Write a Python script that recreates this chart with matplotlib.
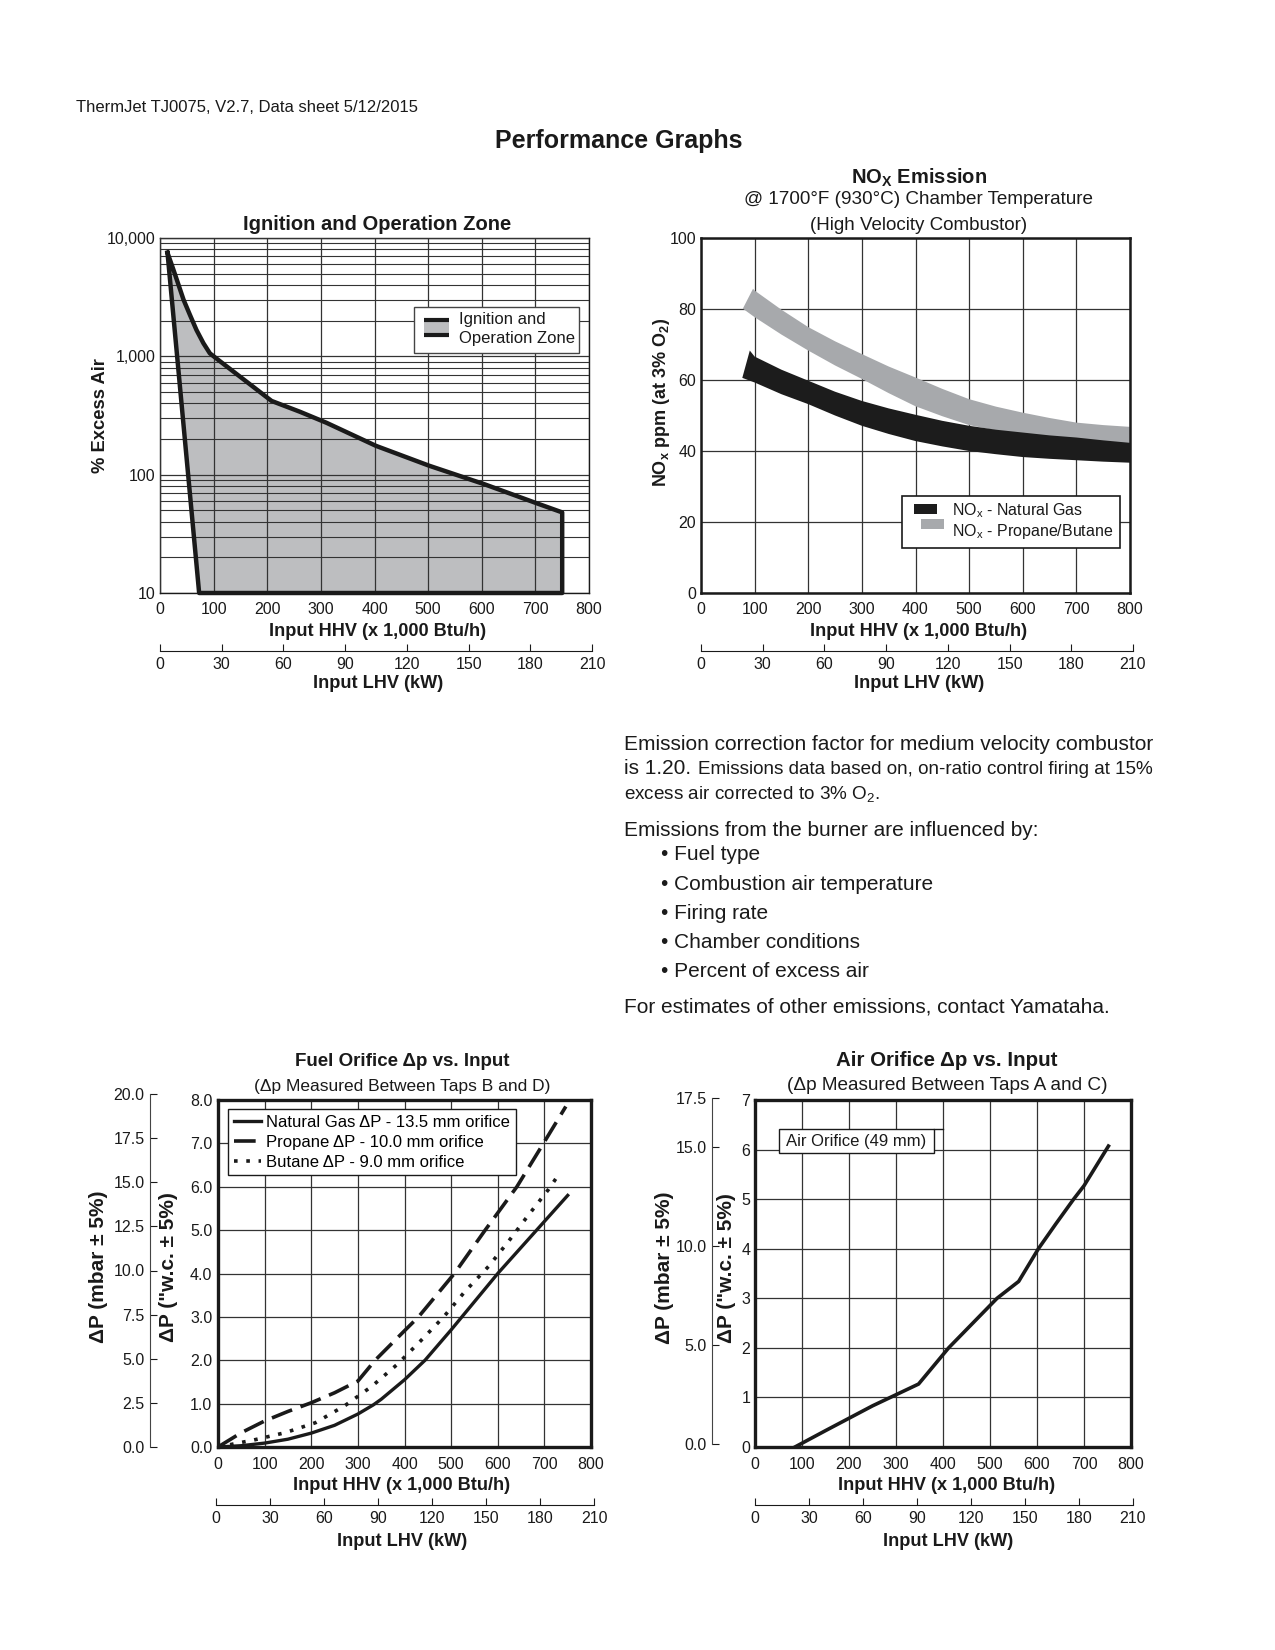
import matplotlib
matplotlib.use("Agg")
import matplotlib.pyplot as plt
import numpy as np
from matplotlib.patches import Rectangle
from matplotlib.ticker import NullFormatter

plt.rcParams["font.family"] = ["Liberation Sans", "DejaVu Sans"]
plt.rcParams["mathtext.fontset"] = "custom"
plt.rcParams["mathtext.rm"] = "Liberation Sans"
plt.rcParams["mathtext.it"] = "Liberation Sans:italic"
plt.rcParams["mathtext.bf"] = "Liberation Sans:bold"
plt.rcParams["mathtext.default"] = "regular"

W, H = 1275, 1650
INK = "#1a1a1a"
GRID = "#333333"

# --- data ------------------------------------------------------------------ #
hhv_ticks = [0, 100, 200, 300, 400, 500, 600, 700, 800]
lhv_ticks = [0, 30, 60, 90, 120, 150, 180, 210]

# ignition and operation zone outline: input HHV (x1000 Btu/h) vs % excess air
zone_hhv = [14, 25, 44, 56, 68, 81, 93, 109, 208, 261, 310, 403, 502, 605,
            704, 750, 750, 73, 14]
zone_excess_air = [7500, 5400, 3000, 2230, 1670, 1290, 1060, 930, 420, 340,
                   275, 175, 119, 83, 57, 48, 10, 10, 7500]
excess_ticks = [10, 100, 1000, 10000]
excess_labels = ["10", "100", "1,000", "10,000"]

# NOx bands, ppm at 3% O2
ng_top_hhv = [91, 100, 150, 200, 250, 300, 350, 400, 450, 500, 550, 600, 650, 700, 750, 800]
ng_top_ppm = [68.3, 66.6, 62.9, 59.8, 56.7, 54.1, 52.0, 50.2, 48.5, 47.1, 46.0, 45.2,
              44.4, 43.8, 43.0, 42.3]
ng_bot_hhv = [77, 100, 150, 200, 250, 300, 350, 400, 450, 500, 550, 600, 650, 700, 750, 800]
ng_bot_ppm = [60.6, 59.3, 56.0, 53.2, 50.0, 47.1, 44.8, 42.8, 41.3, 40.0, 39.1, 38.3,
              37.8, 37.4, 37.0, 36.7]
lp_top_hhv = [97, 100, 150, 200, 250, 300, 350, 400, 450, 500, 550, 600, 650, 700, 750, 800]
lp_top_ppm = [85.7, 85.2, 79.8, 74.9, 70.9, 67.3, 63.8, 60.7, 57.5, 54.6, 52.5, 50.8,
              49.3, 48.0, 47.3, 46.8]
lp_bot_hhv = [78, 100, 150, 200, 250, 300, 350, 400, 450, 500, 550, 600, 650, 700, 750, 800]
lp_bot_ppm = [80.1, 77.7, 72.8, 68.3, 64.1, 60.3, 56.3, 52.6, 49.8, 47.3, 45.8, 44.8,
              43.6, 43.0, 42.5, 42.0]
nox_ticks = [0, 20, 40, 60, 80, 100]

# fuel orifice dp, "w.c.
ng_hhv = [0, 50, 100, 150, 200, 250, 300, 333, 350, 400, 444, 500, 550, 600, 650, 700, 750]
ng_dp = [0, 0.03, 0.09, 0.18, 0.32, 0.50, 0.76, 0.97, 1.1, 1.55, 2.0, 2.7, 3.35, 4.0,
         4.6, 5.2, 5.8]
propane_hhv = [0, 50, 100, 150, 200, 250, 300, 337, 400, 430, 507, 573, 641, 698, 746]
propane_dp = [0, 0.33, 0.6, 0.82, 1.02, 1.25, 1.52, 2.0, 2.68, 3.0, 4.0, 5.0, 6.0, 7.0, 7.85]
butane_hhv = [0, 76, 144, 209, 273, 330, 384, 434, 484, 530, 580, 623, 666, 709, 730]
butane_dp = [0, 0.16, 0.33, 0.56, 0.96, 1.40, 1.90, 2.44, 3.0, 3.59, 4.16, 4.74, 5.35,
             5.94, 6.27]
fuel_wc_ticks = [0, 1, 2, 3, 4, 5, 6, 7, 8]
fuel_mbar_ticks = [0, 2.5, 5.0, 7.5, 10.0, 12.5, 15.0, 17.5, 20.0]

# air orifice dp, "w.c.
air_hhv = [85, 150, 250, 348, 412, 515, 561, 603, 640, 678, 700, 752]
air_dp = [0, 0.33, 0.83, 1.27, 2.0, 3.0, 3.34, 4.0, 4.5, 5.0, 5.27, 6.07]
air_wc_ticks = [0, 1, 2, 3, 4, 5, 6, 7]
air_mbar_ticks = [0, 5.0, 10.0, 15.0, 17.5]

fig = plt.figure(figsize=(W / 100, H / 100), dpi=100)


def px_box(l, t, r, b):
    """Pixel box (top-left origin) -> figure fraction rect."""
    return [l / W, 1 - b / H, (r - l) / W, (b - t) / H]


def ftext(x, y, s, **kw):
    kw.setdefault("ha", "center")
    kw.setdefault("va", "center")
    kw.setdefault("color", INK)
    fig.text(x / W, 1 - (y + 2) / H, s, **kw)


def lhv_axis(l, r, y):
    ax = fig.add_axes(px_box(l, y - 1, r, y))
    ax.set_facecolor("none")
    for side in ("left", "right", "top"):
        ax.spines[side].set_visible(False)
    ax.spines["bottom"].set_color(INK)
    ax.set_xlim(0, 210)
    ax.set_xticks(lhv_ticks)
    ax.set_yticks([])
    ax.tick_params(axis="x", direction="in", length=5, pad=4.5, labelsize=11.5,
                   colors=INK)
    return ax


def mbar_axis(x, top, bottom, ymax, ticks):
    ax = fig.add_axes(px_box(x, top, x + 30, bottom))
    ax.set_facecolor("none")
    for side in ("right", "top", "bottom"):
        ax.spines[side].set_visible(False)
    ax.spines["left"].set_color("#444444")
    ax.set_ylim(0, ymax)
    ax.set_yticks(ticks, [f"{t:.1f}" for t in ticks])
    ax.set_xticks([])
    ax.tick_params(axis="y", direction="in", length=5, pad=4, labelsize=11.5,
                   colors=INK)
    return ax


def style_grid(ax, lw_frame):
    for s in ax.spines.values():
        s.set_linewidth(lw_frame)
        s.set_color(INK)
    ax.grid(True, color=GRID, lw=0.9)
    ax.tick_params(length=0, labelsize=11.5, colors=INK)


# --- header ----------------------------------------------------------------- #
ftext(76, 105, "ThermJet TJ0075, V2.7, Data sheet 5/12/2015", ha="left", fontsize=12)
ftext(619, 139, "Performance Graphs", fontsize=18, fontweight="bold")

# --- ignition and operation zone --------------------------------------------- #
ax1 = fig.add_axes(px_box(160, 238, 589, 593))
ax1.set_yscale("log")
ax1.set_xlim(0, 800)
ax1.set_ylim(10, 10000)
ax1.fill(zone_hhv, zone_excess_air, color="#bdbec0", lw=0, zorder=1)
ax1.plot(zone_hhv, zone_excess_air, color=INK, lw=3.2, solid_joinstyle="round",
         zorder=3, clip_on=False)
ax1.set_axisbelow(False)
style_grid(ax1, 1.0)
ax1.grid(True, which="minor", axis="y", color=GRID, lw=0.8)
ax1.set_xticks(hhv_ticks)
ax1.set_yticks(excess_ticks, excess_labels)
ax1.yaxis.set_minor_formatter(NullFormatter())
ax1.tick_params(which="both", length=0)
ax1.tick_params(axis="x", pad=6.5)
ax1.tick_params(axis="y", pad=3.5)
ax1.add_patch(Rectangle((0.5925, 0.677), 0.384, 0.128, transform=ax1.transAxes,
                        facecolor="white", edgecolor="#444444", lw=1.0, zorder=4))
ax1.add_patch(Rectangle((0.616, 0.726), 0.057, 0.044, transform=ax1.transAxes,
                        facecolor="#bdbec0", lw=0, zorder=5))
for yy in (0.770, 0.726):
    ax1.plot([0.616, 0.673], [yy, yy], transform=ax1.transAxes, color=INK, lw=3,
             solid_capstyle="butt", zorder=6)
ax1.text(0.6975, 0.770, "Ignition and", transform=ax1.transAxes, fontsize=12,
         va="center", color=INK, zorder=6)
ax1.text(0.6975, 0.716, "Operation Zone", transform=ax1.transAxes, fontsize=12,
         va="center", color=INK, zorder=6)
ftext(377, 222, "Ignition and Operation Zone", fontsize=14.5, fontweight="bold")
ftext(101, 414, "% Excess Air", rotation=90, fontsize=13.2, fontweight="bold")
ftext(378, 629, "Input HHV (x 1,000 Btu/h)", fontsize=13.1, fontweight="bold")
lhv_axis(160, 592, 651)
ftext(378, 682, "Input LHV (kW)", fontsize=13.1, fontweight="bold")

# --- NOx emission --------------------------------------------------------------- #
ax2 = fig.add_axes(px_box(701, 238, 1130, 593))
ax2.set_xlim(0, 800)
ax2.set_ylim(0, 100)
ax2.set_axisbelow(True)
style_grid(ax2, 1.8)
ax2.fill(np.r_[lp_top_hhv, lp_bot_hhv[::-1]], np.r_[lp_top_ppm, lp_bot_ppm[::-1]],
         color="#a7a9ac", lw=0, zorder=2)
ax2.fill(np.r_[ng_top_hhv, ng_bot_hhv[::-1]], np.r_[ng_top_ppm, ng_bot_ppm[::-1]],
         color="#1c1c1c", lw=0, zorder=3)
ax2.set_xticks(hhv_ticks)
ax2.set_yticks(nox_ticks)
ax2.tick_params(axis="x", pad=6.5)
ax2.tick_params(axis="y", pad=3.5)
ax2.add_patch(Rectangle((0.4675, 0.128), 0.5085, 0.145, transform=ax2.transAxes,
                        facecolor="white", edgecolor=INK, lw=1.2, zorder=4))
ax2.add_patch(Rectangle((0.4975, 0.223), 0.0535, 0.029, transform=ax2.transAxes,
                        facecolor="#1c1c1c", lw=0, zorder=5))
ax2.add_patch(Rectangle((0.5125, 0.179), 0.055, 0.029, transform=ax2.transAxes,
                        facecolor="#a7a9ac", lw=0, zorder=5))
ax2.text(0.585, 0.233, "NO$_x$ - Natural Gas", transform=ax2.transAxes,
         fontsize=11.5, va="center", color=INK, zorder=6)
ax2.text(0.585, 0.172, "NO$_x$ - Propane/Butane", transform=ax2.transAxes,
         fontsize=11.5, va="center", color=INK, zorder=6)
ftext(919, 176, r"NO$_\mathbf{X}$ Emission", fontsize=14.5, fontweight="bold")
ftext(919, 198, "@ 1700°F (930°C) Chamber Temperature", fontsize=13.6)
ftext(919, 223, "(High Velocity Combustor)", fontsize=13.5)
ftext(661, 400, r"NO$_\mathbf{x}$ ppm (at 3% O$_\mathbf{2}$)", rotation=90,
      fontsize=13, fontweight="bold")
ftext(919, 629, "Input HHV (x 1,000 Btu/h)", fontsize=13.1, fontweight="bold")
lhv_axis(701, 1133, 651)
ftext(919, 682, "Input LHV (kW)", fontsize=13.1, fontweight="bold")

# --- notes ------------------------------------------------------------------- #
ftext(624, 742, "Emission correction factor for medium velocity combustor",
      ha="left", fontsize=15)
ftext(624, 767, "is 1.20.", ha="left", fontsize=15)
ftext(698, 767, "Emissions data based on, on-ratio control firing at 15%",
      ha="left", fontsize=13.6)
ftext(624, 792, "excess air corrected to 3% O$_2$.", ha="left", fontsize=13.6)
ftext(624, 828, "Emissions from the burner are influenced by:", ha="left", fontsize=15)
bullets = ["Fuel type", "Combustion air temperature", "Firing rate",
           "Chamber conditions", "Percent of excess air"]
for i, item in enumerate(bullets):
    ftext(661, 853 + i * 29.2, "• " + item, ha="left", fontsize=15)
ftext(624, 1005, "For estimates of other emissions, contact Yamataha.",
      ha="left", fontsize=15)

# --- fuel orifice dp --------------------------------------------------------- #
ax3 = fig.add_axes(px_box(218, 1100, 591, 1447))
ax3.set_xlim(0, 800)
ax3.set_ylim(0, 8)
style_grid(ax3, 2.4)
ax3.plot(ng_hhv, ng_dp, color=INK, lw=2.4, label="Natural Gas ΔP - 13.5 mm orifice")
ax3.plot(propane_hhv, propane_dp, color=INK, lw=2.6, dashes=(6, 2.5),
         dash_capstyle="butt", label="Propane ΔP - 10.0 mm orifice")
ax3.plot(butane_hhv, butane_dp, color=INK, lw=2.6, dashes=(1, 2.4),
         dash_capstyle="butt", label="Butane ΔP - 9.0 mm orifice")
ax3.set_xticks(hhv_ticks)
ax3.set_yticks(fuel_wc_ticks, [f"{t:.1f}" for t in fuel_wc_ticks])
ax3.tick_params(axis="x", pad=7)
ax3.tick_params(axis="y", pad=4)
leg = ax3.legend(loc="upper left", bbox_to_anchor=(0.027, 0.975), borderaxespad=0,
                 fancybox=False, framealpha=1, edgecolor=INK, fontsize=12,
                 handlelength=1.6, labelspacing=0.3, borderpad=0.35,
                 handletextpad=0.35)
leg.get_frame().set_linewidth(1.0)
mbar_axis(150, 1094, 1447, 20, fuel_mbar_ticks)
ftext(402, 1060, "Fuel Orifice Δp vs. Input", fontsize=13.5, fontweight="bold")
ftext(402, 1085, "(Δp Measured Between Taps B and D)", fontsize=12.5)
ftext(98, 1265, "ΔP (mbar ± 5%)", rotation=90, fontsize=15, fontweight="bold")
ftext(168, 1265, "ΔP (\"w.c. ± 5%)", rotation=90, fontsize=15, fontweight="bold")
ftext(402, 1484, "Input HHV (x 1,000 Btu/h)", fontsize=13.1, fontweight="bold")
lhv_axis(216, 594, 1505)
ftext(402, 1539, "Input LHV (kW)", fontsize=13.1, fontweight="bold")

# --- air orifice dp ---------------------------------------------------------- #
ax4 = fig.add_axes(px_box(755, 1100, 1131, 1447))
ax4.set_xlim(0, 800)
ax4.set_ylim(0, 7)
style_grid(ax4, 2.4)
ax4.plot(air_hhv, air_dp, color=INK, lw=2.6)
ax4.set_xticks(hhv_ticks)
ax4.set_yticks(air_wc_ticks)
ax4.tick_params(axis="x", pad=7)
ax4.tick_params(axis="y", pad=3.5)
ax4.add_patch(Rectangle((0.065, 0.846), 0.41, 0.071, transform=ax4.transAxes,
                        facecolor="white", edgecolor=INK, lw=1.0, zorder=4))
ax4.plot([0.475, 0.5], [0.917, 0.917], transform=ax4.transAxes, color=INK, lw=1.0,
         zorder=4)
ax4.text(0.27, 0.8815, "Air Orifice (49 mm)", transform=ax4.transAxes,
         fontsize=12, ha="center", va="center", color=INK, zorder=5)
mbar_axis(712, 1098, 1444, 17.5, air_mbar_ticks)
ftext(947, 1058, "Air Orifice Δp vs. Input", fontsize=14.8, fontweight="bold")
ftext(947, 1083, "(Δp Measured Between Taps A and C)", fontsize=13.7)
ftext(664, 1266, "ΔP (mbar ± 5%)", rotation=90, fontsize=15, fontweight="bold")
ftext(727, 1266, "ΔP (\"w.c. ± 5%)", rotation=90, fontsize=15, fontweight="bold")
ftext(947, 1484, "Input HHV (x 1,000 Btu/h)", fontsize=13.1, fontweight="bold")
lhv_axis(755, 1133, 1505)
ftext(948, 1539, "Input LHV (kW)", fontsize=13.1, fontweight="bold")

fig.savefig("out.png", dpi=100, facecolor="white")
plt.close(fig)
